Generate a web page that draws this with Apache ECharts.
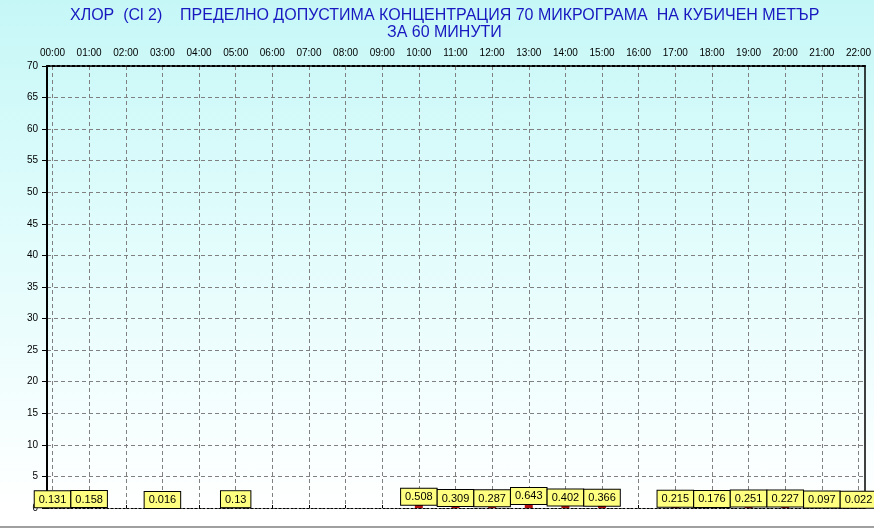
<!DOCTYPE html>
<html>
<head>
<meta charset="utf-8">
<script src="https://cdn.jsdelivr.net/npm/echarts@6/dist/echarts.min.js"></script>
<style>
html,body{margin:0;padding:0;}
#wrap{position:relative;width:874px;height:529px;background:linear-gradient(to bottom,#c6f7f7 0%,#e2fcfc 45%,#ffffff 96%,#ffffff 100%);}
#chart{position:absolute;left:0;top:0;width:874px;height:529px;}
#line{position:absolute;left:0;top:526px;width:874px;height:2px;background:#a0a0a0;}
</style>
</head>
<body>
<div id="wrap"><div id="chart"></div><div id="line"></div></div>
<script>
var titleLine1 = 'ХЛОР  (Cl 2)    ПРЕДЕЛНО ДОПУСТИМА КОНЦЕНТРАЦИЯ 70 МИКРОГРАМА  НА КУБИЧЕН МЕТЪР';
var titleLine2 = 'ЗА 60 МИНУТИ';
var hours = ['00:00','01:00','02:00','03:00','04:00','05:00','06:00','07:00','08:00','09:00','10:00','11:00','12:00','13:00','14:00','15:00','16:00','17:00','18:00','19:00','20:00','21:00','22:00'];
var values = [0.131, 0.158, '-', 0.016, '-', 0.13, '-', '-', '-', '-', 0.508, 0.309, 0.287, 0.643, 0.402, 0.366, '-', 0.215, 0.176, 0.251, 0.227, 0.097, 0.022];
var yMin = 0, yMax = 70, yStep = 5;

var chart = echarts.init(document.getElementById('chart'), null, {renderer:'canvas'});
var gridFont = 'Liberation Sans, Arial, sans-serif';
var titleStyle = {color:'#1818c0', fontSize:16, fontWeight:'normal', fontFamily:gridFont, lineHeight:17};
chart.setOption({
  backgroundColor: 'transparent',
  animation: false,
  title: [
    {text: titleLine1, left:70, top:7, padding:0, textStyle:titleStyle},
    {text: titleLine2, left:387, top:24, padding:0, textStyle:titleStyle}
  ],
  grid: [
    {left:52.5, right:14, top:66, bottom:21},
    {left:47, right:9, top:66, bottom:21}
  ],
  xAxis: [
    {gridIndex:0, type:'category', data:hours, position:'top', boundaryGap:false,
     axisLine:{show:false}, axisTick:{show:true, length:3, inside:false, lineStyle:{color:'#000'}},
     axisLabel:{color:'#000', fontSize:10, fontFamily:gridFont, margin:8, interval:0},
     splitLine:{show:true, lineStyle:{color:'#808080', type:[4,3], width:1}}},
    {gridIndex:1, type:'value', position:'top', min:0, max:1, show:true,
     axisLine:{show:true, onZero:false, lineStyle:{color:'#000', width:2, type:[3,2]}},
     axisTick:{show:false}, axisLabel:{show:false}, splitLine:{show:false}},
    {gridIndex:1, type:'value', position:'bottom', min:0, max:1, show:true,
     axisLine:{show:true, onZero:false, lineStyle:{color:'#000', width:1, type:[2,2]}},
     axisTick:{show:false}, axisLabel:{show:false}, splitLine:{show:false}}
  ],
  yAxis: [
    {gridIndex:0, type:'value', min:yMin, max:yMax, interval:yStep, show:false},
    {gridIndex:1, type:'value', position:'left', min:yMin, max:yMax, interval:yStep,
     axisLine:{show:true, onZero:false, lineStyle:{color:'#000', width:2}},
     axisTick:{show:true, length:5, lineStyle:{color:'#000'}},
     axisLabel:{color:'#000', fontSize:10, fontFamily:gridFont, margin:9},
     splitLine:{show:true, lineStyle:{color:'#808080', type:[4,3], width:1}}},
    {gridIndex:1, type:'value', position:'right', min:yMin, max:yMax, interval:yStep,
     axisLine:{show:true, onZero:false, lineStyle:{color:'#000', width:1.5}},
     axisTick:{show:false}, axisLabel:{show:false}, splitLine:{show:false}}
  ],
  series: [{
    type:'bar', xAxisIndex:0, yAxisIndex:0, data:values, barWidth:8,
    itemStyle:{color:'#b01010'},
    label:{show:true, position:'top', distance:0, color:'#000', fontSize:11, fontFamily:gridFont,
      backgroundColor:'#ffff80', borderColor:'#000', borderWidth:1, padding:[3,4,2,4]},
    z:5
  }]
});
</script>
</body>
</html>
